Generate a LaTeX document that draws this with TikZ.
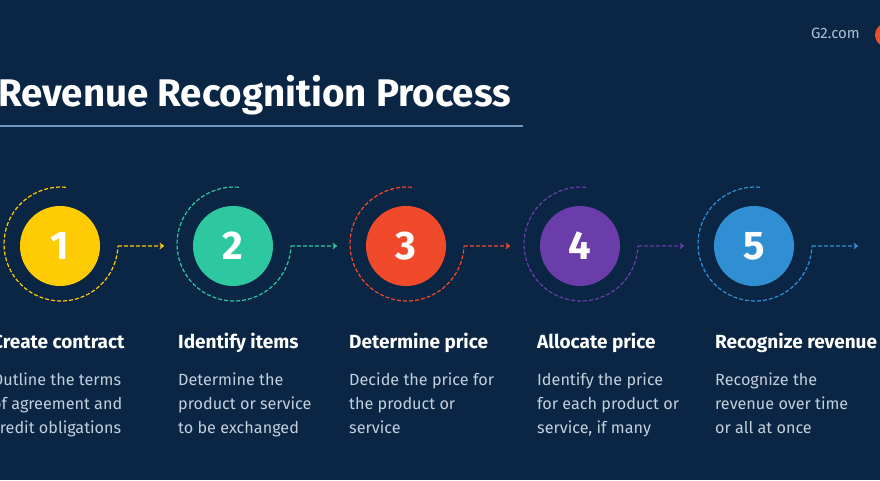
\documentclass[tikz,border=0pt]{standalone}
\usepackage{fontspec}
\setmainfont{Fira Sans}[Ligatures=NoCommon]
\usetikzlibrary{arrows.meta,calc}
\definecolor{bg}{HTML}{0A2644}
\definecolor{cyel}{HTML}{FFCB05}
\definecolor{cgrn}{HTML}{2DC89F}
\definecolor{cred}{HTML}{F04A2A}
\definecolor{cpur}{HTML}{6A3DAA}
\definecolor{cblu}{HTML}{2F8FD2}
\definecolor{bodyc}{HTML}{C3CFDC}
\definecolor{linec}{HTML}{6C97BE}
\definecolor{g2c}{HTML}{AFC0D4}
\definecolor{g2red}{HTML}{E8502F}
\begin{document}
\begin{tikzpicture}[x=1pt,y=1pt,
  numcircle/.style={circle,minimum size=80pt,inner sep=0pt,text=white,font=\fontsize{40}{40}\selectfont\bfseries},
  headtxt/.style={anchor=base west,inner sep=0pt,text=white,font=\fontsize{19}{22}\selectfont\bfseries},
  bodytxt/.style={anchor=base west,inner sep=0pt,text=bodyc,align=left,font=\fontsize{16.2}{24}\selectfont},
  ring/.style={dashed,dash pattern=on 4pt off 2pt,line width=1.2pt},
  tipline/.style={ring,-{Stealth[length=6pt,width=9pt,inset=3.5pt,round]}}
]
\fill[bg] (0,0) rectangle (880,480);
\useasboundingbox (0,0) rectangle (880,480);
% header
\node[anchor=base east,inner sep=0pt,text=g2c,font=\fontsize{15}{16}\selectfont] (g2) at (860,441) {G2.com};
\fill[g2red] (887,445) circle (12);
\node[anchor=base west,inner sep=0pt,text=white,font=\fontsize{38.5}{40}\selectfont\bfseries] (title) at (-2,373) {Revenue Recognition Process};
\coordinate (ul1) at (0,354);
\coordinate (ul2) at (523,354);
\draw[linec,line width=1.5pt] (ul1) -- (ul2);
% steps
\foreach \i/\cx/\col/\hx/\head/\bodytext in {
  1/60/cyel/-8/Create contract/{Outline the terms\\of agreement and\\credit obligations},
  2/233/cgrn/178/Identify items/{Determine the\\product or service\\to be exchanged},
  3/406/cred/349/Determine price/{Decide the price for\\the product or\\service},
  4/580/cpur/537/Allocate price/{Identify the price\\for each product or\\service, if many},
  5/754/cblu/715/Recognize revenue/{Recognize the\\revenue over time\\or all at once}} {
  \node[numcircle,fill=\col] (c\i) at (\cx,234) {\i};
  \coordinate (a\i) at (\cx+1,236);
  \coordinate (t\i) at (\cx+104,234);
  \draw[\col,ring] ($(a\i)+(85:57)$) arc[start angle=85,end angle=358,radius=57] coordinate (e\i);
  \draw[\col,tipline] (e\i) -- (t\i);
  \node[headtxt] (h\i) at (\hx,132) {\head};
  \node[bodytxt] (b\i) at (\hx,47) {\bodytext};
}
\end{tikzpicture}
\end{document}
